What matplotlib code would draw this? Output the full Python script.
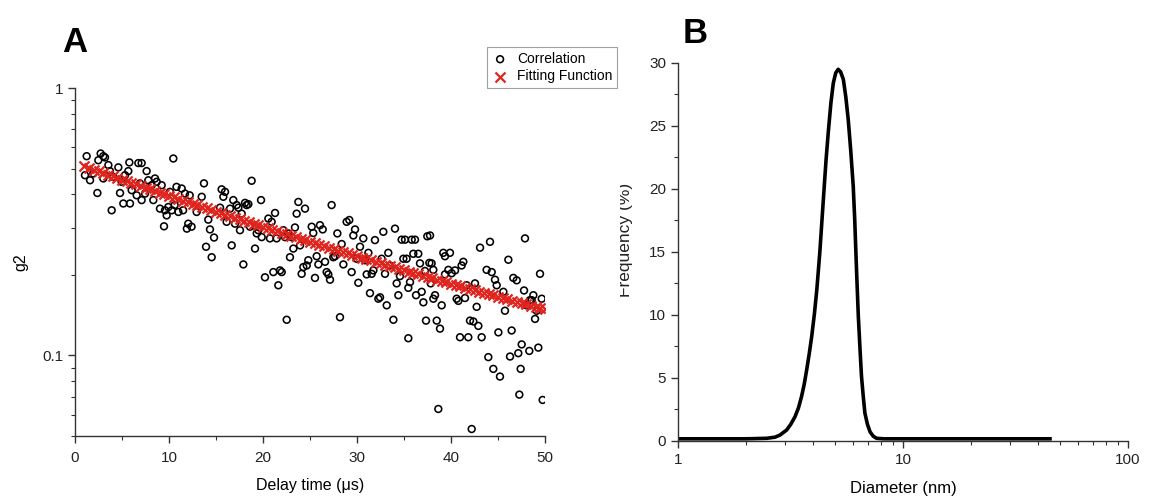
import numpy as np
import matplotlib
matplotlib.use("Agg")
import matplotlib.pyplot as plt
from matplotlib.ticker import FixedLocator, NullFormatter, MultipleLocator, LogLocator
from matplotlib.transforms import Bbox, TransformedBbox

plt.rcParams['font.family'] = ['Liberation Sans', 'DejaVu Sans']

# Panel A: measured correlation (delay time in us, g2)
corr_t = [1.24, 2.73, 3.01, 2.48, 3.19, 1.06, 1.60, 1.95, 2.38, 3.55, 3.90, 3.01, 3.72, 4.08, 4.61,
          4.79, 5.14, 4.96, 5.32, 5.67, 5.78, 5.85, 6.03, 6.56, 6.74, 7.09, 6.91, 7.09, 7.62, 7.80,
          7.45, 8.16, 8.51, 8.33, 8.69, 9.04, 9.22, 9.47, 9.57, 9.75, 9.93, 10.1, 10.3, 10.46, 10.6,
          10.8, 11.0, 11.35, 11.5, 11.7, 11.9, 12.05, 12.2, 12.4,
          12.94, 13.48, 13.72, 13.94, 14.18, 14.36, 14.54, 14.79, 15.43, 15.6, 15.78, 15.96, 16.13,
          16.49, 16.67, 16.84, 17.02, 17.2, 17.38, 17.55, 17.73, 17.91, 18.09, 18.26, 18.44, 18.62,
          18.79, 19.15, 19.33, 19.5, 19.79, 19.86, 20.21, 20.57, 20.74, 20.92, 21.1, 21.28, 21.45,
          21.63, 21.81, 21.99, 22.16, 22.34, 22.52, 22.7, 22.87, 23.05, 23.23, 23.4, 23.58, 23.76,
          23.94, 24.11, 24.29, 24.47, 24.65, 24.82,
          25.18, 25.35, 25.53, 25.71, 25.89, 26.06, 26.35, 26.6, 26.77, 26.95, 27.13, 27.3, 27.48,
          27.66, 27.91, 28.19, 28.37, 28.55, 28.9, 29.18, 29.43, 29.61, 29.79, 29.96, 30.14, 30.32,
          30.67, 30.85, 31.03, 31.21, 31.38, 31.56, 31.74, 31.91, 32.27, 32.45, 32.62, 32.8, 32.98,
          33.16, 33.33, 33.51, 33.87, 34.04, 34.22, 34.4, 34.57, 34.75, 34.93, 35.11, 35.28, 35.46,
          35.46, 35.64, 35.82, 35.99, 36.17, 36.28, 36.52, 36.7, 36.88, 37.06, 37.23, 37.34, 37.48,
          37.7, 37.84,
          37.77, 37.94, 38.12, 38.12, 38.3, 38.48, 38.65, 38.83, 39.01, 39.18, 39.36, 39.36, 39.72,
          39.89, 40.07, 40.43, 40.6, 40.78, 40.96, 41.13, 41.31, 41.49, 41.67, 41.84, 42.02, 42.2,
          42.38, 42.55, 42.73, 42.91, 43.09, 43.26, 43.79, 43.97, 44.15, 44.33, 44.5, 44.68, 44.86,
          45.04, 45.21, 45.57, 45.74, 46.1, 46.28, 46.45, 46.63, 46.99, 47.16, 47.27, 47.41, 47.52,
          47.77, 47.87, 48.05, 48.33, 48.4, 48.58, 48.76, 48.94, 49.11, 49.29, 49.47, 49.65, 49.75]
corr_g = [0.556, 0.569, 0.556, 0.537, 0.55, 0.472, 0.452, 0.479, 0.405, 0.515, 0.349, 0.459, 0.489, 0.465, 0.505,
          0.405, 0.37, 0.446, 0.472, 0.489, 0.527, 0.37, 0.415, 0.397, 0.524, 0.524, 0.44, 0.381, 0.489, 0.452,
          0.403, 0.433, 0.459, 0.381, 0.446, 0.354, 0.433, 0.304, 0.349, 0.334, 0.359, 0.409, 0.349, 0.545, 0.365,
          0.427, 0.344, 0.421, 0.349, 0.403, 0.298, 0.311, 0.397, 0.303,
          0.344, 0.392, 0.44, 0.255, 0.322, 0.296, 0.233, 0.276, 0.357, 0.418, 0.392, 0.409, 0.316,
          0.354, 0.258, 0.381, 0.311, 0.365, 0.357, 0.294, 0.339, 0.219, 0.372, 0.365, 0.368, 0.303,
          0.45, 0.251, 0.286, 0.294, 0.381, 0.277, 0.196, 0.325, 0.274, 0.316, 0.205, 0.341, 0.274,
          0.183, 0.208, 0.205, 0.294, 0.277, 0.136, 0.286, 0.233, 0.277, 0.251, 0.301, 0.339, 0.375,
          0.258, 0.202, 0.214, 0.354, 0.217, 0.227,
          0.303, 0.287, 0.195, 0.235, 0.219, 0.307, 0.296, 0.224, 0.205, 0.201, 0.192, 0.365, 0.233,
          0.235, 0.286, 0.139, 0.261, 0.219, 0.316, 0.321, 0.205, 0.281, 0.296, 0.23, 0.187, 0.255,
          0.274, 0.227, 0.201, 0.242, 0.171, 0.202, 0.208, 0.27, 0.163, 0.165, 0.23, 0.29, 0.202,
          0.154, 0.242, 0.217, 0.136, 0.298, 0.186, 0.168, 0.198, 0.271, 0.23, 0.271, 0.23, 0.179,
          0.116, 0.188, 0.271, 0.24, 0.271, 0.168, 0.24, 0.221, 0.173, 0.158, 0.207, 0.135, 0.279,
          0.222, 0.186,
          0.281, 0.221, 0.209, 0.163, 0.168, 0.135, 0.0631, 0.126, 0.154, 0.242, 0.235, 0.201, 0.209,
          0.242, 0.203, 0.208, 0.163, 0.16, 0.117, 0.217, 0.224, 0.164, 0.183, 0.117, 0.135, 0.0531,
          0.134, 0.186, 0.152, 0.129, 0.253, 0.117, 0.209, 0.0986, 0.266, 0.205, 0.0891, 0.192, 0.183,
          0.122, 0.0834, 0.173, 0.147, 0.228, 0.0991, 0.124, 0.195, 0.191, 0.102, 0.0714, 0.0891, 0.11,
          0.175, 0.274, 0.154, 0.104, 0.161, 0.161, 0.168, 0.137, 0.147, 0.107, 0.202, 0.163, 0.0682]

# Panel A: fitting function markers
fit_t = [1.0, 1.5, 2.0, 2.5, 3.0, 3.5, 4.0, 4.5, 5.0, 5.5, 6.0, 6.5, 7.0, 7.5, 8.0, 8.5, 9.0, 9.5,
         10.0, 10.5, 11.0, 11.5, 12.0, 12.5, 13.0, 13.5, 14.0, 14.5, 15.0, 15.5, 16.0, 16.5, 17.0,
         17.5, 18.0, 18.5, 19.0, 19.5, 20.0, 20.5, 21.0, 21.5, 22.0, 22.5, 23.0, 23.5, 24.0, 24.5,
         25.0, 25.5, 26.0, 26.5, 27.0, 27.5, 28.0, 28.5, 29.0, 29.5, 30.0, 30.5, 31.0, 31.5, 32.0,
         32.5, 33.0, 33.5, 34.0, 34.5, 35.0, 35.5, 36.0, 36.5, 37.0, 37.5, 38.0, 38.5, 39.0, 39.5,
         40.0, 40.5, 41.0, 41.5, 42.0, 42.5, 43.0, 43.5, 44.0, 44.5, 45.0, 45.5, 46.0, 46.5, 47.0,
         47.5, 48.0, 48.5, 49.0, 49.5, 50.0]
fit_g = [0.5102, 0.5028, 0.4956, 0.4885, 0.4816, 0.4747, 0.4680, 0.4613, 0.4549, 0.4484, 0.4421,
         0.4360, 0.4299, 0.4239, 0.4180, 0.4122, 0.4066, 0.4009, 0.3954, 0.3900, 0.3847, 0.3795,
         0.3743, 0.3692, 0.3642, 0.3594, 0.3545, 0.3498, 0.3451, 0.3406, 0.3360, 0.3316, 0.3272,
         0.3229, 0.3187, 0.3145, 0.3104, 0.3064, 0.3024, 0.2985, 0.2947, 0.2909, 0.2872, 0.2835,
         0.2799, 0.2764, 0.2729, 0.2694, 0.2661, 0.2627, 0.2594, 0.2562, 0.2530, 0.2499, 0.2468,
         0.2438, 0.2408, 0.2379, 0.2350, 0.2322, 0.2294, 0.2266, 0.2239, 0.2212, 0.2186, 0.2160,
         0.2134, 0.2109, 0.2084, 0.2060, 0.2035, 0.2012, 0.1988, 0.1965, 0.1942, 0.1920, 0.1898,
         0.1876, 0.1855, 0.1834, 0.1813, 0.1793, 0.1773, 0.1753, 0.1733, 0.1714, 0.1695, 0.1676,
         0.1658, 0.1640, 0.1622, 0.1604, 0.1587, 0.1570, 0.1553, 0.1536, 0.1520, 0.1504, 0.1488]

# Panel B: size distribution (diameter in nm, frequency in %)
diam = [1.0, 1.5, 2.0, 2.48, 2.70, 2.84, 3.04, 3.17, 3.31, 3.43, 3.54, 3.64, 3.73, 3.83, 3.93,
        4.04, 4.14, 4.27, 4.42, 4.55, 4.66, 4.78, 4.90, 5.02, 5.15, 5.28, 5.43, 5.57, 5.71, 5.86,
        6.01, 6.10, 6.22, 6.33, 6.44, 6.54, 6.66, 6.77, 6.95, 7.14, 7.38, 7.63, 8.2, 10.0, 20.0, 45.0]
freq = [0.15, 0.15, 0.15, 0.19, 0.28, 0.45, 0.85, 1.3, 1.9, 2.6, 3.5, 4.5, 5.6, 6.9, 8.3,
        10.1, 12.0, 15.0, 19.0, 22.3, 24.6, 26.8, 28.4, 29.2, 29.5, 29.3, 28.7, 27.3, 25.5, 23.0,
        20.2, 17.6, 13.4, 9.9, 7.3, 5.1, 3.5, 2.2, 1.3, 0.7, 0.35, 0.19, 0.15, 0.15, 0.15, 0.15]

W, H = 1165, 497
fig = plt.figure(figsize=(W / 100, H / 100), dpi=100)

# ---- Panel A ----
axA = fig.add_axes([75 / W, 1 - 436 / H, 470 / W, 348 / H])
axA.scatter(corr_t, corr_g, s=24, facecolors='none', edgecolors='black', linewidths=1.15,
            label='Correlation', zorder=2)
axA.scatter(fit_t, fit_g, s=52, marker='x', color='#e0231c', linewidths=1.6,
            label='Fitting Function', zorder=3)
axA.set_yscale('log')
axA.set_xlim(0, 50)
axA.set_ylim(0.05, 1)
axA.xaxis.set_major_locator(MultipleLocator(10))
axA.xaxis.set_minor_locator(MultipleLocator(5))
axA.yaxis.set_major_locator(FixedLocator([0.1, 1]))
axA.yaxis.set_major_formatter(plt.FuncFormatter(lambda v, p: '1' if v == 1 else '0.1'))
axA.yaxis.set_minor_locator(LogLocator(base=10, subs=np.arange(2, 10)))
axA.yaxis.set_minor_formatter(NullFormatter())
axA.set_xlabel('Delay time (μs)', fontsize=11.5)
axA.xaxis.set_label_coords(0.5, -0.12)
axA.set_ylabel('g2', fontsize=11.5)
axA.yaxis.set_label_coords(-0.1, 0.5)
leg = axA.legend(loc='upper right', bbox_to_anchor=(617 / W, 1 - 47 / H),
                 bbox_transform=fig.transFigure, fontsize=10, frameon=True, fancybox=False,
                 handletextpad=0.6, borderpad=0.35, labelspacing=0.25, handlelength=1.2,
                 borderaxespad=0)
leg.get_frame().set_edgecolor('#888888')
leg.get_frame().set_linewidth(0.8)

# ---- Panel B ----
axB = fig.add_axes([678 / W, 1 - 440.7 / H, 450 / W, 377.7 / H])
axB.plot(diam, freq, color='black', lw=2.6, solid_joinstyle='round')
axB.set_xscale('log')
axB.set_xlim(1, 100)
axB.set_ylim(0, 30)
axB.xaxis.set_major_locator(FixedLocator([1, 10, 100]))
axB.xaxis.set_major_formatter(plt.FuncFormatter(lambda v, p: '%d' % v))
axB.xaxis.set_minor_locator(LogLocator(base=10, subs=np.arange(2, 10)))
axB.xaxis.set_minor_formatter(NullFormatter())
axB.yaxis.set_major_locator(MultipleLocator(5))
axB.yaxis.set_minor_locator(MultipleLocator(2.5))
axB.set_xlabel('Diameter (nm)', fontsize=12)
axB.xaxis.set_label_coords(0.5, -0.108)

for ax in (axA, axB):
    for side in ('top', 'right'):
        ax.spines[side].set_visible(False)
    for side in ('left', 'bottom'):
        ax.spines[side].set_color('#333333')
        ax.spines[side].set_linewidth(1.0)
    ax.tick_params(which='major', direction='out', length=5, width=1.0, colors='#333333',
                   labelcolor='#222222', labelsize=11)
    ax.tick_params(which='minor', direction='out', length=3, width=0.8, colors='#333333')
axA.tick_params(axis='x', which='major', pad=6)

# clipped y label of panel B (cut at the panel edge as in the figure)
ylab = fig.text(630 / W, 1 - 240 / H, 'Frequency (%)', rotation=90, rotation_mode='anchor',
                ha='center', va='baseline', fontsize=12.5, color='#222222')
ylab.set_clip_box(TransformedBbox(Bbox([[620 / W, 0], [1, 1]]), fig.transFigure))
ylab.set_clip_on(True)

# panel letters
fig.text(62 / W, 1 - 52 / H, 'A', fontsize=25, fontweight='bold', va='baseline')
fig.text(683 / W, 1 - 43 / H, 'B', fontsize=25, fontweight='bold', va='baseline')

fig.savefig('out.png', dpi=100, facecolor='white')
